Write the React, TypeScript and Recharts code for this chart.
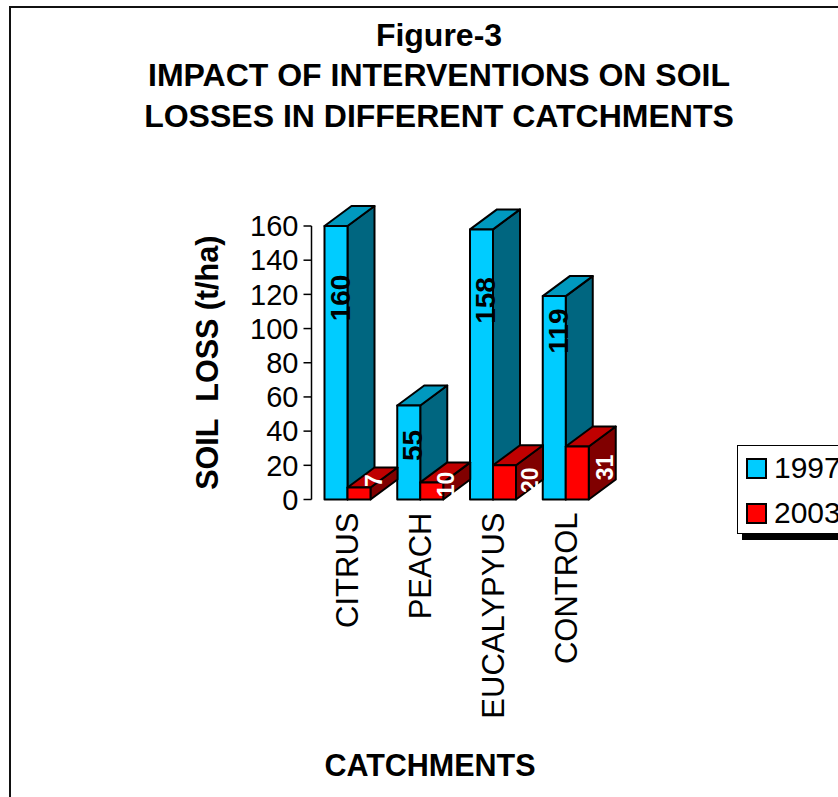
import React from "react";
import { BarChart, Bar, XAxis, YAxis, Legend, LabelList, Customized } from "recharts";

const categories = ["CITRUS", "PEACH", "EUCALYPYUS", "CONTROL"];
const values1997 = [160, 55, 158, 119];
const values2003 = [7, 10, 20, 31];
const yTicks = [0, 20, 40, 60, 80, 100, 120, 140, 160];
const titleLines = ["Figure-3", "IMPACT OF INTERVENTIONS ON SOIL", "LOSSES IN DIFFERENT CATCHMENTS"];

const labelShift1997: [number, number][] = [[4, 72], [4, 40], [4, 71], [4, 35]];
const labelShift2003: [number, number][] = [[4, -7], [3, 2], [14, 15], [16, 21]];

const data = categories.map((c, i) => ({ name: c, a: values1997[i], b: values2003[i] }));

const FONT = "'Liberation Sans', Arial, sans-serif";
const DX = 27;
const DY = 20;

const bar3d = (front: string, top: string, side: string) => (p: any) => {
  const { x, y, width: w, height: h } = p;
  const common = { stroke: "#000", strokeWidth: 2, strokeLinejoin: "round" as const };
  return (
    <g>
      <polygon points={`${x + w},${y} ${x + w + DX},${y - DY} ${x + w + DX},${y + h - DY} ${x + w},${y + h}`} fill={side} {...common} />
      <polygon points={`${x},${y} ${x + DX},${y - DY} ${x + w + DX},${y - DY} ${x + w},${y}`} fill={top} {...common} />
      <rect x={x} y={y} width={w} height={h} fill={front} {...common} />
    </g>
  );
};

const barLabel = (shifts: [number, number][], color: string, size: number, fromRight: boolean) => (p: any) => {
  const { x, y, width: w, value, index } = p;
  const [sx, sy] = shifts[index];
  const cx = (fromRight ? x + w : x + w / 2) + sx;
  const cy = y + sy;
  return (
    <text
      x={cx}
      y={cy}
      transform={`rotate(-90 ${cx} ${cy})`}
      textAnchor="middle"
      dominantBaseline="central"
      fontFamily={FONT}
      fontWeight="bold"
      fontSize={size}
      fill={color}
    >
      {value}
    </text>
  );
};

const CategoryTick = (p: any) => {
  const { x, y, payload } = p;
  const tx = x;
  const ty = y + 5;
  return (
    <text
      x={tx}
      y={ty}
      transform={`rotate(-90 ${tx} ${ty})`}
      textAnchor="end"
      dominantBaseline="central"
      fontFamily={FONT}
      fontSize={31}
      fill="#000"
    >
      {payload.value}
    </text>
  );
};

const Titles = () => (
  <g fontFamily={FONT} fontWeight="bold" fontSize={32} fill="#000" textAnchor="middle">
    <text x={439} y={46}>{titleLines[0]}</text>
    <text x={439} y={86}>{titleLines[1]}</text>
    <text x={439} y={127}>{titleLines[2]}</text>
  </g>
);

const LegendBox = (p: any) => {
  const items = p.payload || [];
  return (
    <div style={{ position: "relative", width: 120, height: 95 }}>
      <div style={{ position: "absolute", left: 5, top: 5, width: 120, height: 90, background: "#000" }} />
      <div style={{ position: "absolute", left: 0, top: 0, width: 120, height: 89, background: "#fff", border: "1.5px solid #000", boxSizing: "border-box" }} />
      {items.map((it: any, i: number) => (
        <div key={it.value} style={{ position: "absolute", left: 9, top: 13 + i * 45, display: "flex", alignItems: "center", height: 20 }}>
          <span style={{ width: 17, height: 17, background: it.color, border: "2px solid #000", display: "inline-block", flex: "none" }} />
          <span style={{ marginLeft: 7, fontFamily: FONT, fontSize: 30, color: "#000", lineHeight: "20px" }}>{it.value}</span>
        </div>
      ))}
    </div>
  );
};

export default function App() {
  return (
    <div style={{ position: "absolute", left: 0, top: 0, width: 838, height: 797, overflow: "hidden", background: "#fff" }}>
      <div style={{ position: "absolute", left: 9, top: 6, width: 900, height: 900, border: "2px solid #111" }} />
      <div style={{ position: "absolute", left: 0, top: 0 }}>
        <BarChart
          width={838}
          height={797}
          data={data}
          margin={{ top: 226, right: 235.5, bottom: 0, left: 0 }}
          barSize={23}
          barGap={0}
        >
          <Customized component={Titles} />
          <XAxis
            dataKey="name"
            height={297.5}
            axisLine={false}
            tickLine={false}
            interval={0}
            tick={CategoryTick}
            label={{ value: "CATCHMENTS", position: "insideBottom", offset: 21, fontFamily: FONT, fontWeight: "bold", fontSize: 30.5, fill: "#000", dx: -27 }}
          />
          <YAxis
            width={311.5}
            domain={[0, 160]}
            ticks={yTicks}
            interval={0}
            tickSize={8}
            tickMargin={5}
            axisLine={{ stroke: "#000", strokeWidth: 1.5 }}
            tickLine={{ stroke: "#000", strokeWidth: 1.5 }}
            tick={{ fontFamily: FONT, fontSize: 29, fill: "#000" }}
            label={{ value: "SOIL\u00A0\u00A0LOSS (t/ha)", angle: -90, position: "insideLeft", offset: 207, fontFamily: FONT, fontWeight: "bold", fontSize: 30.5, fill: "#000", style: { textAnchor: "middle" } }}
          />
          <Legend
            layout="horizontal"
            align="center"
            verticalAlign="middle"
            content={LegendBox}
            wrapperStyle={{ position: "absolute", left: 737, top: 445, width: 120, height: 95, margin: 0 }}
          />
          <Bar dataKey="a" name="1997" fill="#00CCFF" isAnimationActive={false} shape={bar3d("#00CCFF", "#0099BF", "#006680")}>
            <LabelList dataKey="a" content={barLabel(labelShift1997, "#000", 28, false)} />
          </Bar>
          <Bar dataKey="b" name="2003" fill="#FF0000" isAnimationActive={false} shape={bar3d("#FF0000", "#BF0000", "#800000")}>
            <LabelList dataKey="b" content={barLabel(labelShift2003, "#fff", 23, true)} />
          </Bar>
        </BarChart>
      </div>
    </div>
  );
}
